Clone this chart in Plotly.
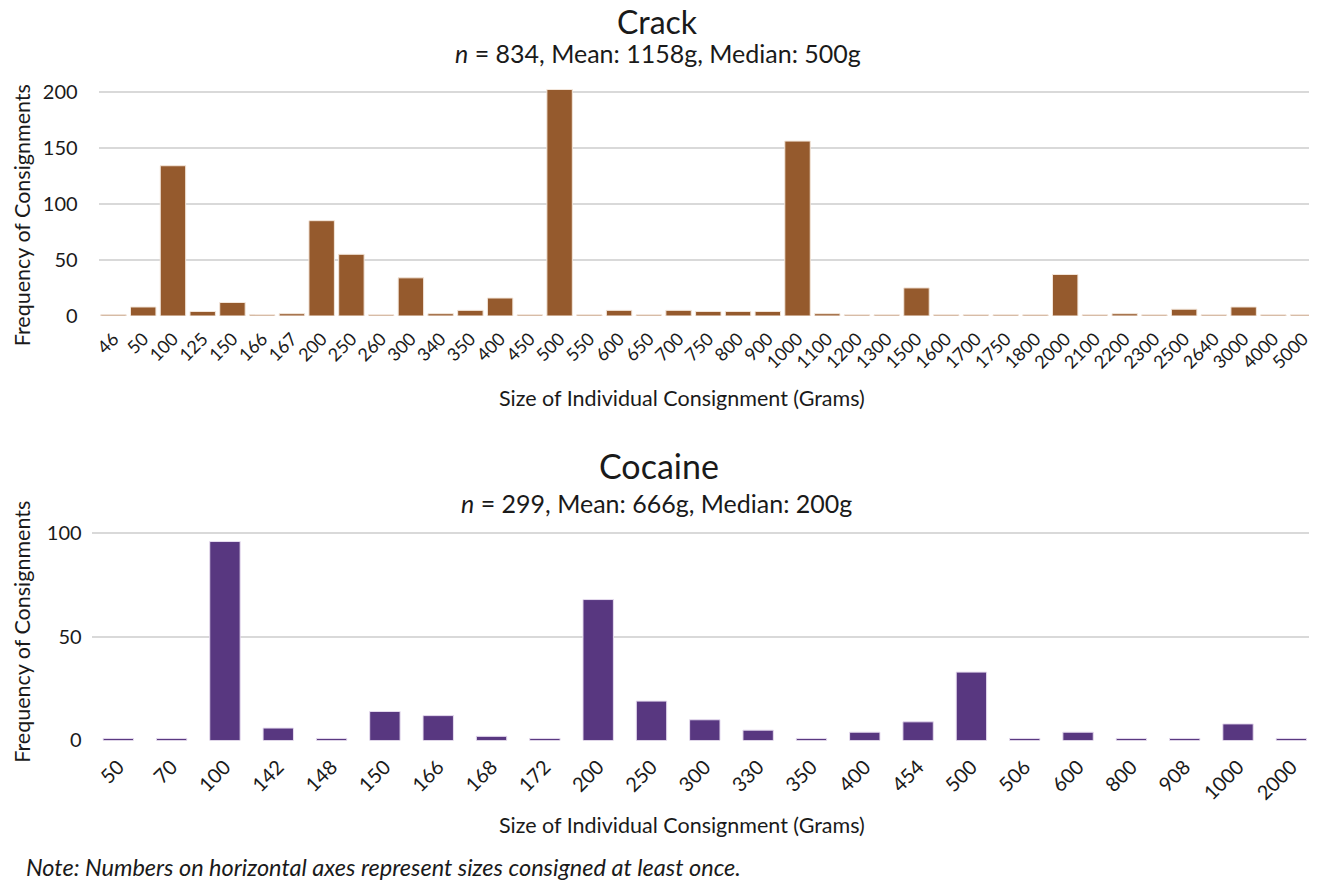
import plotly.graph_objects as go

# crack consignment sizes (grams) and how often each was seen
crack_sizes = ["46", "50", "100", "125", "150", "166", "167", "200", "250", "260",
               "300", "340", "350", "400", "450", "500", "550", "600", "650", "700",
               "750", "800", "900", "1000", "1100", "1200", "1300", "1500", "1600", "1700",
               "1750", "1800", "2000", "2100", "2200", "2300", "2500", "2640", "3000", "4000",
               "5000"]
crack_counts = [1, 8, 134, 4, 12, 1, 2, 85, 55, 1,
                34, 2, 5, 16, 1, 202, 1, 5, 1, 5,
                4, 4, 4, 156, 2, 1, 1, 25, 1, 1,
                1, 1, 37, 1, 2, 1, 6, 1, 8, 1,
                1]

# cocaine consignment sizes (grams)
cocaine_sizes = ["50", "70", "100", "142", "148", "150", "166", "168", "172", "200",
                 "250", "300", "330", "350", "400", "454", "500", "506", "600", "800",
                 "908", "1000", "2000"]
cocaine_counts = [1, 1, 96, 6, 1, 14, 12, 2, 1, 68,
                  19, 10, 5, 1, 4, 9, 33, 1, 4, 1,
                  1, 8, 1]

W, H = 1310, 883
FONT = "Lato"
TXT = "#1a1a1a"
GRID = "#d9d9d9"


# positions below are given in screen pixels of the final picture;
# these convert them back to paper fractions (page offset / scale measured)
def py(pix):
    return 1 - ((pix - 13) / 0.983) / H


def px_(pix):
    return (pix - 10) / W


fig = go.Figure()

fig.add_trace(go.Bar(
    x=crack_sizes, y=crack_counts, xaxis="x", yaxis="y",
    marker=dict(color="#955a2d", line=dict(color="#f3e6da", width=1)),
    showlegend=False,
))
fig.add_trace(go.Bar(
    x=cocaine_sizes, y=cocaine_counts, xaxis="x2", yaxis="y2", width=0.57,
    marker=dict(color="#583780", line=dict(color="#e6dcef", width=1)),
    showlegend=False,
))

axis_common = dict(showline=False, ticks="", zeroline=False)

fig.update_layout(
    width=W, height=H,
    margin=dict(l=0, r=0, t=0, b=0),
    paper_bgcolor="white", plot_bgcolor="white",
    font=dict(family=FONT, color=TXT),
    bargap=0.145,
    xaxis=dict(domain=[px_(95), 1], anchor="y", type="category",
               tickangle=-45, tickfont=dict(size=18, color=TXT), ticklabelstandoff=8,
               showgrid=False, **axis_common),
    yaxis=dict(domain=[py(315), py(84.4)], anchor="x", range=[0, 205],
               tickvals=[0, 50, 100, 150, 200], tickfont=dict(size=20, color=TXT),
               ticklabelstandoff=20,
               showgrid=True, gridcolor=GRID, gridwidth=2, **axis_common),
    xaxis2=dict(domain=[px_(88), 1], anchor="y2", type="category",
                tickangle=-45, tickfont=dict(size=20, color=TXT), ticklabelstandoff=10,
                showgrid=False, **axis_common),
    yaxis2=dict(domain=[py(741), py(524.7)], anchor="x2", range=[0, 104],
                tickvals=[0, 50, 100], tickfont=dict(size=20, color=TXT),
                ticklabelstandoff=9,
                showgrid=True, gridcolor=GRID, gridwidth=2, **axis_common),
)

annos = [
    ("Crack", 656, 20, 32),
    ("<i>n</i> = 834, Mean: 1158g, Median: 500g", 657, 51, 25),
    ("Size of Individual Consignment (Grams)", 681, 397, 21.5),
    ("Cocaine", 658, 465, 34),
    ("<i>n</i> = 299, Mean: 666g, Median: 200g", 655, 503, 25),
    ("Size of Individual Consignment (Grams)", 681, 826, 21.5),
]
for text, x, y, size in annos:
    fig.add_annotation(text=text, x=px_(x), y=py(y), xref="paper", yref="paper",
                       xanchor="center", yanchor="middle", showarrow=False,
                       borderpad=0,
                       font=dict(size=size, color=TXT, family=FONT))

# rotated y titles near the left edge
for ymid in [214, 632]:
    fig.add_annotation(text="Frequency of Consignments", x=px_(18), y=py(ymid),
                       xref="paper", yref="paper", xanchor="center", yanchor="middle",
                       textangle=-90, showarrow=False, borderpad=0,
                       font=dict(size=21.5, color=TXT))

fig.add_annotation(text="<i>Note: Numbers on horizontal axes represent sizes consigned at least once.</i>",
                   x=px_(20), y=py(868), xref="paper", yref="paper", xanchor="left",
                   yanchor="middle", showarrow=False, font=dict(size=23.5, color=TXT))

fig.write_html("out.html")
